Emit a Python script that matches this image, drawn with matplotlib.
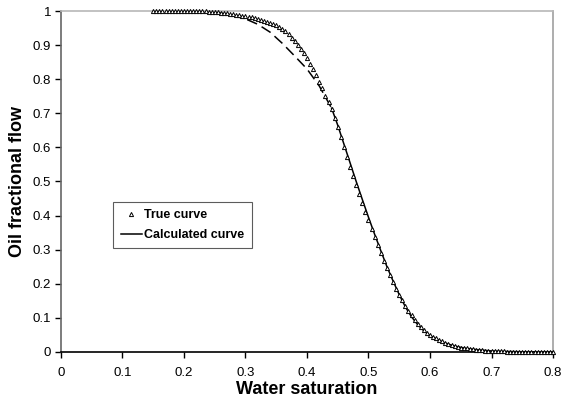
import numpy as np
import matplotlib.pyplot as plt

plt.rcParams['font.family'] = ['Liberation Sans', 'DejaVu Sans']

# True curve (triangles), sampled every 0.005 from 0.15 to 0.80
sw_true = np.round(np.arange(0.15, 0.8001, 0.005), 3)
fo_true = [
    1.000, 1.000, 1.000, 1.000, 1.000, 1.000, 1.000, 1.000,
    1.000, 1.000, 1.000, 1.000, 1.000, 1.000, 1.000, 1.000,
    0.999, 0.999, 0.998, 0.998, 0.997, 0.996, 0.995, 0.994,
    0.993, 0.992, 0.990, 0.989, 0.988, 0.986, 0.985, 0.983,
    0.981, 0.979, 0.977, 0.975, 0.972, 0.969, 0.966, 0.963,
    0.960, 0.954, 0.948, 0.940, 0.932, 0.922, 0.911, 0.900,
    0.889, 0.876, 0.862, 0.846, 0.830, 0.812, 0.793, 0.773,
    0.752, 0.732, 0.712, 0.687, 0.660, 0.630, 0.600, 0.571,
    0.542, 0.516, 0.490, 0.463, 0.437, 0.411, 0.386, 0.361,
    0.336, 0.313, 0.290, 0.267, 0.245, 0.225, 0.205, 0.186,
    0.168, 0.151, 0.135, 0.121, 0.107, 0.095, 0.083, 0.073,
    0.064, 0.056, 0.049, 0.044, 0.040, 0.035, 0.031, 0.027,
    0.023, 0.020, 0.017, 0.015, 0.013, 0.012, 0.011, 0.009,
    0.008, 0.007, 0.006, 0.005, 0.004, 0.0035, 0.003, 0.0025,
    0.002, 0.0018, 0.0015, 0.0012, 0.001, 0.0008, 0.0006, 0.0005,
    0.0004, 0.0003, 0.0002, 0.0001, 0.0, 0.0, 0.0, 0.0,
    0.0, 0.0, 0.0,
]

# Calculated curve: upper part drawn dashed, lower part solid
sw_calc_up = [0.20, 0.22, 0.24, 0.26, 0.28, 0.30, 0.32, 0.34, 0.36, 0.38, 0.40, 0.42, 0.44]
fo_calc_up = [1.000, 0.999, 0.997, 0.994, 0.986, 0.977, 0.961, 0.938, 0.905, 0.868, 0.830, 0.780, 0.715]

sw_calc = [0.44, 0.45, 0.46, 0.47, 0.48, 0.49, 0.50, 0.51, 0.52, 0.53, 0.54, 0.55,
           0.56, 0.57, 0.58, 0.59, 0.60, 0.62, 0.64, 0.66, 0.68, 0.70, 0.72, 0.75, 0.80]
fo_calc = [0.715, 0.665, 0.610, 0.555, 0.500, 0.447, 0.395, 0.345, 0.297, 0.250, 0.208, 0.168,
           0.132, 0.103, 0.080, 0.062, 0.048, 0.029, 0.017, 0.010, 0.006, 0.003, 0.0015, 0.0005, 0.0]

x_ticks = [0, 0.1, 0.2, 0.3, 0.4, 0.5, 0.6, 0.7, 0.8]
x_labels = ['0', '0.1', '0.2', '0.3', '0.4', '0.5', '0.6', '0.7', '0.8']
y_ticks = [0, 0.1, 0.2, 0.3, 0.4, 0.5, 0.6, 0.7, 0.8, 0.9, 1]
y_labels = ['0', '0.1', '0.2', '0.3', '0.4', '0.5', '0.6', '0.7', '0.8', '0.9', '1']

fig = plt.figure(figsize=(5.62, 4.05), dpi=100)
ax = fig.add_axes([0.1085, 0.131, 0.8755, 0.8418])

ax.plot(sw_true, fo_true, linestyle='none', marker='^', markersize=3,
        markerfacecolor='white', markeredgecolor='black', markeredgewidth=0.7,
        label='True curve', clip_on=False, zorder=3)
ax.plot(sw_calc_up, fo_calc_up, color='black', lw=1.1, dashes=(7, 3.5), zorder=2)
ax.plot(sw_calc, fo_calc, color='black', lw=1.1, label='Calculated curve', zorder=2)

ax.set_xlim(0, 0.8)
ax.set_ylim(0, 1)
ax.set_xticks(x_ticks)
ax.set_xticklabels(x_labels)
ax.set_yticks(y_ticks)
ax.set_yticklabels(y_labels)
ax.tick_params(axis='x', direction='out', length=4, width=1, pad=7, labelsize=9.5)
ax.tick_params(axis='y', direction='out', length=4, width=1, pad=3, labelsize=9.5)

ax.spines['left'].set_color('#666666')
ax.spines['bottom'].set_color('black')
ax.spines['top'].set_color('#b8b8b8')
ax.spines['right'].set_color('#a0a0a0')
for s in ax.spines.values():
    s.set_linewidth(1.2)

ax.set_xlabel('Water saturation', fontsize=13, fontweight='bold', labelpad=1)
ax.set_ylabel('Oil fractional flow', fontsize=13, fontweight='bold', labelpad=5)

leg = ax.legend(loc='upper left', bbox_to_anchor=(0.106, 0.44), frameon=True, fancybox=False,
                prop={'weight': 'bold', 'size': 9}, handlelength=1.7, handletextpad=0.2,
                borderpad=0.6, labelspacing=0.6, borderaxespad=0)
leg.get_frame().set_edgecolor('#333333')
leg.get_frame().set_linewidth(0.8)

fig.savefig('out.png', dpi=100)
